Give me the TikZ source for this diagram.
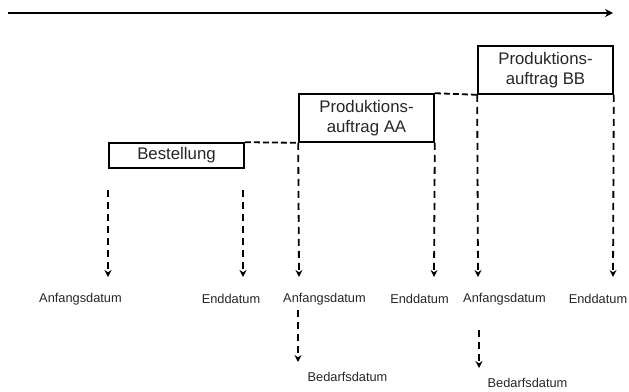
\documentclass[tikz,border=0pt]{standalone}
\usepackage{fontspec}
\setmainfont{Liberation Sans}
\usetikzlibrary{arrows.meta}
\begin{document}
\begin{tikzpicture}[x=1pt,y=-1pt,
  box/.style={draw,line width=1.6pt,inner sep=0pt},
  boxtext/.style={font=\fontsize{16.8}{20}\selectfont,align=center,text=black!85},
  lbl/.style={font=\fontsize{12.8}{15}\selectfont,text=black!85,inner sep=0pt},
  darr/.style={line width=1.8pt,dash pattern=on 7pt off 5pt,-{Stealth[length=7pt,width=7pt]}},
  hdash/.style={line width=1.8pt,dash pattern=on 6pt off 3pt}]
\useasboundingbox (0,0) rectangle (629,391);
% time axis
\coordinate (t0) at (8,13);
\coordinate (t1) at (613,13);
\draw[line width=2pt,-{Stealth[length=8pt,width=8pt]}] (t0) -- (t1);
% boxes
\node[box,minimum width=135pt,minimum height=25pt] (best) at (176.5,155.5) {};
\node[boxtext] at (best.center) {Bestellung};
\node[box,minimum width=135pt,minimum height=48pt] (aa) at (366.5,118) {};
\node[boxtext] at (aa.center) {Produktions-\\auftrag AA};
\node[box,minimum width=135pt,minimum height=48pt] (bb) at (545.5,70) {};
\node[boxtext] at (bb.center) {Produktions-\\auftrag BB};
% dashed connectors between boxes
\draw[hdash] (best.north east) -- (aa.south west);
\draw[hdash] (aa.north east) -- (bb.south west);
% arrow start/end coordinates
\coordinate (s1) at (108,190);
\coordinate (s2) at (243,190);
\coordinate (e1) at (108,277);
\coordinate (e2) at (243,277);
\coordinate (e3) at (299,277);
\coordinate (e4) at (434,277);
\coordinate (e5) at (478,277);
\coordinate (e6) at (613,277);
\draw[darr] (s1) -- (e1);
\draw[darr] (s2) -- (e2);
\draw[darr] (aa.south west) -- (e3);
\draw[darr] (aa.south east) -- (e4);
\draw[darr] (bb.south west) -- (e5);
\draw[darr] (bb.south east) -- (e6);
% labels
\node[lbl] (l1) at (80.5,299) {Anfangsdatum};
\node[lbl] (l2) at (231,299) {Enddatum};
\node[lbl] (l3) at (324.5,299) {Anfangsdatum};
\node[lbl] (l4) at (419.5,299) {Enddatum};
\node[lbl] (l5) at (504.5,299) {Anfangsdatum};
\node[lbl] (l6) at (598,299) {Enddatum};
% Bedarfsdatum
\coordinate (b1s) at (298,310);
\coordinate (b1e) at (298,362);
\coordinate (b2s) at (479,330);
\coordinate (b2e) at (479,368);
\draw[darr] (b1s) -- (b1e);
\draw[darr] (b2s) -- (b2e);
\node[lbl] (bd1) at (347.5,377) {Bedarfsdatum};
\node[lbl] (bd2) at (527.5,383) {Bedarfsdatum};
\end{tikzpicture}
\end{document}
